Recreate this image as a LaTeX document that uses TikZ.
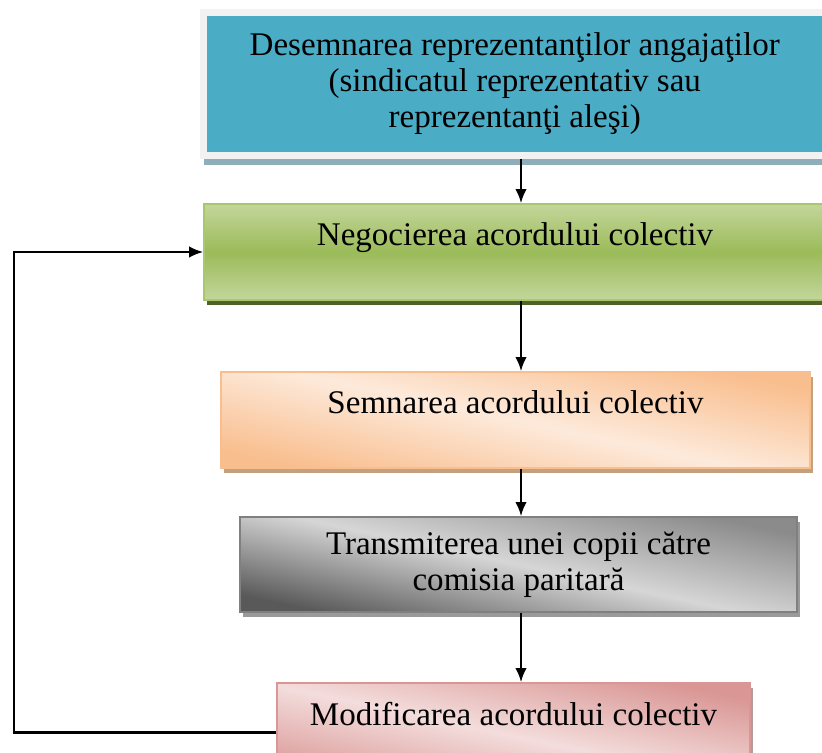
\documentclass[tikz,border=0pt]{standalone}
\usepackage{fontspec}
\setmainfont{Liberation Serif}
\usetikzlibrary{arrows.meta,shadows}

\definecolor{desemBlue}{HTML}{4BACC6}
\definecolor{frameGray}{HTML}{F2F2F2}
\definecolor{desemShadow}{HTML}{8EAFBA}
\definecolor{negocLight}{HTML}{C3D69B}
\definecolor{negocDark}{HTML}{9BBB59}
\definecolor{negocLine}{HTML}{A9C76F}
\definecolor{negocShadow}{HTML}{4F6228}
\definecolor{semnDark}{HTML}{F9BE8E}
\definecolor{semnLight}{HTML}{FDEADB}
\definecolor{semnShadow}{HTML}{C4A07E}
\definecolor{transDark}{HTML}{595959}
\definecolor{transLight}{HTML}{D6D6D6}
\definecolor{transShadow}{HTML}{9A9A9A}
\definecolor{modifDark}{HTML}{D99694}
\definecolor{modifLight}{HTML}{F3DDDC}
\definecolor{modifShadow}{HTML}{B59A9A}

\begin{document}
\begin{tikzpicture}[x=0.02cm, y=-0.02cm,
    box/.style={rectangle, align=center, inner sep=0pt,
      font=\fontsize{18.8}{20.5}\selectfont},
    flow/.style={-{Latex[length=8pt, width=6.5pt]}, line width=1.3pt}]
  \useasboundingbox (0,0) rectangle (822,753);
  \coordinate (axis) at (521,0);
  \coordinate (loopx) at (14,0);

  % the five steps
  \node[box, fill=desemBlue, draw=frameGray, line width=4pt,
    minimum width=12.45cm, minimum height=2.86cm,
    drop shadow={shadow xshift=0.4pt, shadow yshift=-5.4pt, fill=desemShadow, opacity=1}]
    (desem) at (514.75,84)
    {Desemnarea reprezentanţilor angajaţilor\\(sindicatul reprezentativ sau\\reprezentanţi aleşi)};
  \node[box, top color=negocLight, bottom color=negocLight, middle color=negocDark,
    draw=negocLine, line width=0.9pt, text height=0.46cm, text depth=0.74cm,
    minimum width=12.44cm, minimum height=1.92cm,
    drop shadow={shadow xshift=1.7pt, shadow yshift=-2.8pt, fill=negocShadow, opacity=1}]
    (negoc) at (515,252) {Negocierea acordului colectiv};
  \node[box, top color=semnDark, bottom color=semnDark, middle color=semnLight, shading angle=-12,
    draw=semnDark, line width=0.9pt, text height=0.46cm, text depth=0.74cm,
    minimum width=11.78cm, minimum height=1.92cm,
    drop shadow={shadow xshift=1.7pt, shadow yshift=-2.8pt, fill=semnShadow, opacity=1}]
    (semn) at (515.5,420) {Semnarea acordului colectiv};
  \node[box, top color=transDark!70, bottom color=transDark, middle color=transLight, shading angle=-12,
    draw=gray, line width=0.9pt,
    minimum width=11.14cm, minimum height=1.9cm,
    drop shadow={shadow xshift=1.7pt, shadow yshift=-2.8pt, fill=transShadow, opacity=1}]
    (trans) at (518.5,564.5) {Transmiterea unei copii către\\comisia paritară};
  \node[box, top color=modifDark, bottom color=modifDark, middle color=modifLight, shading angle=-12,
    draw=modifDark, line width=0.9pt, text height=0.46cm, text depth=0.9cm,
    minimum width=9.46cm, minimum height=2.12cm,
    drop shadow={shadow xshift=1.7pt, shadow yshift=-2.8pt, fill=modifShadow, opacity=1}]
    (modif) at (513.5,736) {Modificarea acordului colectiv};

  % arrows
  \draw[flow] (desem.south -| axis) -- (negoc.north -| axis);
  \draw[flow] (negoc.south -| axis) -- (semn.north -| axis);
  \draw[flow] (semn.south -| axis) -- (trans.north -| axis);
  \draw[flow] (trans.south -| axis) -- (modif.north -| axis);
  \draw[flow] ([yshift=2pt]modif.west) -| (loopx |- negoc.west) -- (negoc.west);
\end{tikzpicture}
\end{document}
